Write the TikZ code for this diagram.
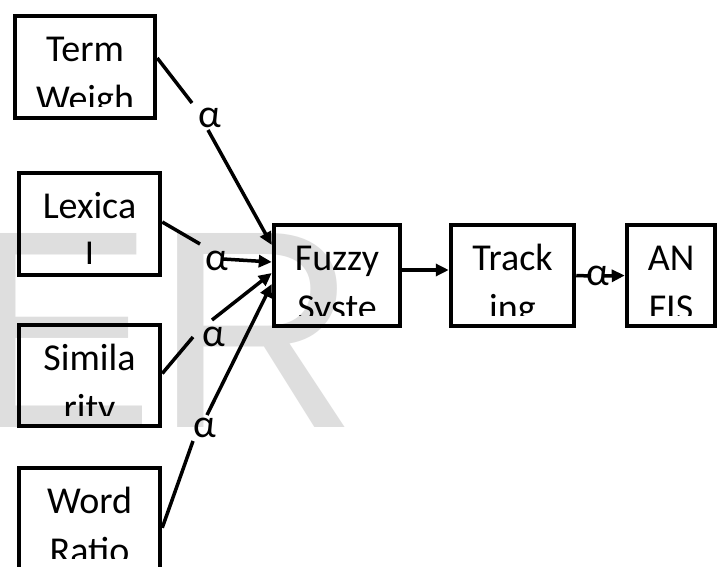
\documentclass[tikz,border=0pt]{standalone}
\usepackage{fontspec}
\setmainfont{Carlito}
\newfontfamily\wmfont{Liberation Sans}
\usetikzlibrary{arrows.meta}
\newcommand\boxtext[3]{%
  \begin{scope}
    \clip (#1.north west) rectangle ([yshift=-93pt]#1.north east);
    \node[lbl] (#1-a) at ([yshift=-48pt]#1.north) {#2};
    \node[lbl] (#1-b) at ([yshift=-98pt]#1.north) {#3};
  \end{scope}}
\begin{document}
\begin{tikzpicture}[x=1pt,y=-1pt,
  box/.style={draw, line width=4.5pt, inner sep=0pt},
  lbl/.style={font=\fontsize{38}{40}\selectfont, inner sep=0pt, anchor=base},
  alph/.style={font=\fontsize{40}{40}\selectfont, inner sep=0pt},
  conn/.style={line width=3.5pt},
  arr/.style={line width=3.5pt, -{Triangle[length=13pt,width=12pt]}}]
\useasboundingbox (0,0) rectangle (720,567);
\clip (0,0) rectangle (720,567);
\fill[white] (0,0) rectangle (720,567);
% watermark
\node[anchor=base west, inner sep=0pt, text=black!13, font=\wmfont\fontsize{282}{282}\selectfont] (wm) at (-34,427) {ER};
% boxes
\node[box, minimum width=140pt, minimum height=102pt] (tw) at (85,67) {};
\node[box, minimum width=141pt, minimum height=102pt] (lx) at (89.5,224) {};
\node[box, minimum width=141pt, minimum height=101pt] (sm) at (89.5,375.5) {};
\node[box, minimum width=141pt, minimum height=200pt] (wd) at (89.5,568) {};
\node[box, minimum width=126pt, minimum height=101pt] (fz) at (337,275.5) {};
\node[box, minimum width=123pt, minimum height=101pt] (tk) at (512.5,275.5) {};
\node[box, minimum width=88pt, minimum height=101pt] (an) at (671,275.5) {};
\boxtext{tw}{Term}{Weigh}
\boxtext{lx}{Lexica}{l}
\boxtext{sm}{Simila}{rity}
\boxtext{wd}{Word}{Ratio}
\boxtext{fz}{Fuzzy}{Syste}
\boxtext{tk}{Track}{ing}
\boxtext{an}{AN}{FIS}
% alpha labels
\node[alph] (a1) at (210,118) {α};
\node[alph] (a2) at (217,261) {α};
\node[alph] (a3) at (214,337) {α};
\node[alph] (a4) at (205,428) {α};
\node[alph] (a5) at (598,276) {α};
% connectors
\draw[conn] ([yshift=9pt]tw.east) -- ([xshift=-18pt,yshift=15pt]a1.center);
\draw[arr] ([xshift=-2pt,yshift=-12pt]a1.center) -- ([yshift=30.5pt]fz.west);
\draw[conn] ([yshift=2pt]lx.east) -- ([xshift=-17pt,yshift=17pt]a2.center);
\draw[arr] ([xshift=6pt,yshift=2pt]a2.center) -- ([yshift=13.5pt]fz.west);
\draw[conn] ([yshift=2pt]sm.east) -- ([xshift=-21pt]a3.center);
\draw[arr] ([xshift=-2pt,yshift=17pt]a3.center) -- ([yshift=2.5pt]fz.west);
\draw[conn] ([yshift=-62pt]wd.north east) -- ([xshift=-12pt,yshift=-13pt]a4.center);
\draw[arr] ([xshift=2pt,yshift=13pt]a4.center) -- ([yshift=-8.5pt]fz.west);
\draw[arr] ([yshift=5.5pt]fz.east) -- ([yshift=5.5pt]tk.west);
\draw[conn] (tk.east) -- ([xshift=-7pt]a5.center);
\draw[arr] ([xshift=4pt]a5.center) -- (an.west);
\end{tikzpicture}
\end{document}
